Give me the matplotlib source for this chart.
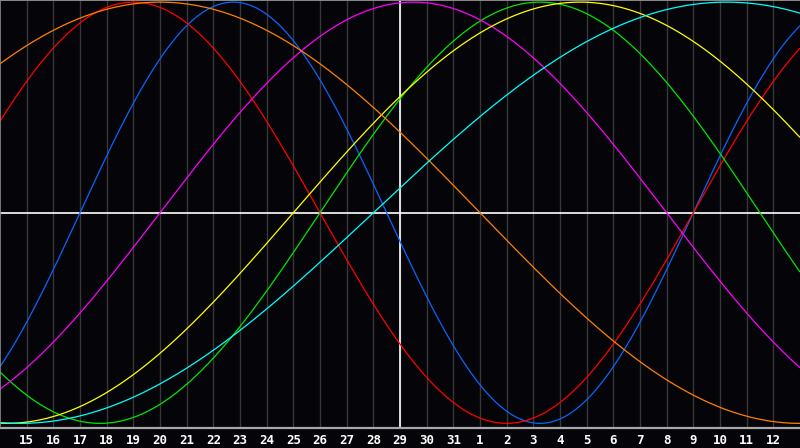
import numpy as np
import matplotlib
matplotlib.use("Agg")
import matplotlib.pyplot as plt

# ---- data ----
cycle_names = ["Physical", "Emotional", "Intellectual", "Intuitive",
               "Aesthetic", "Awareness", "Spiritual"]
cycle_length = [23, 28, 33, 38, 43, 48, 53]          # days per cycle
rising_zero_day = [3, -2, 12, 6, 11, -6, 14]         # day index of upward zero crossing
cycle_colors = ["#0a64ff", "#ff0000", "#00e600", "#ff00ff",
                "#ffff00", "#ff8000", "#00ffff"]
day_labels = [str(d) for d in range(15, 32)] + [str(d) for d in range(1, 13)]
today_index = 15
n_days = 30

BG = "#050509"

fig = plt.figure(figsize=(8.0, 4.48), dpi=100, facecolor=BG)
ax = fig.add_axes([0.0, 20 / 448, 1.0, 428 / 448])
ax.set_facecolor(BG)

ax.set_xlim(0, n_days)
ax.set_ylim(-1.022, 1.010)

# vertical day grid
for i in range(1, len(day_labels) + 1):
    ax.axvline(i, color="#383838", lw=1.0, zorder=1)

# curves
t = np.linspace(0, n_days, 1201)
for P, z, c in zip(cycle_length, rising_zero_day, cycle_colors):
    ax.plot(t, np.sin(2 * np.pi * (t - z) / P), color=c, lw=0.9, zorder=3,
            solid_capstyle="butt")

# today line and zero line
ax.axvline(today_index, color="white", lw=1.2, zorder=2)
ax.axhline(0, color="white", lw=1.2, zorder=2)

# borders
for side in ["top", "right", "left"]:
    ax.spines[side].set_visible(False)
ax.spines["bottom"].set_color("#a8a8a8")
ax.spines["bottom"].set_linewidth(1.6)
ax.plot([0, 0], [-1.1, 1.1], color="#8a8a8a", lw=1.2, zorder=4, clip_on=True)
ax.axhline(1.010, color="#8a8a8a", lw=1.4, zorder=4)

ax.set_yticks([])
ax.set_xticks(range(1, len(day_labels) + 1))
ax.set_xticklabels(day_labels, color="white", fontsize=9, fontweight="bold",
                   family="DejaVu Sans Mono")
ax.tick_params(axis="x", length=0, pad=4)

fig.savefig("out.png", dpi=100, facecolor=BG)
